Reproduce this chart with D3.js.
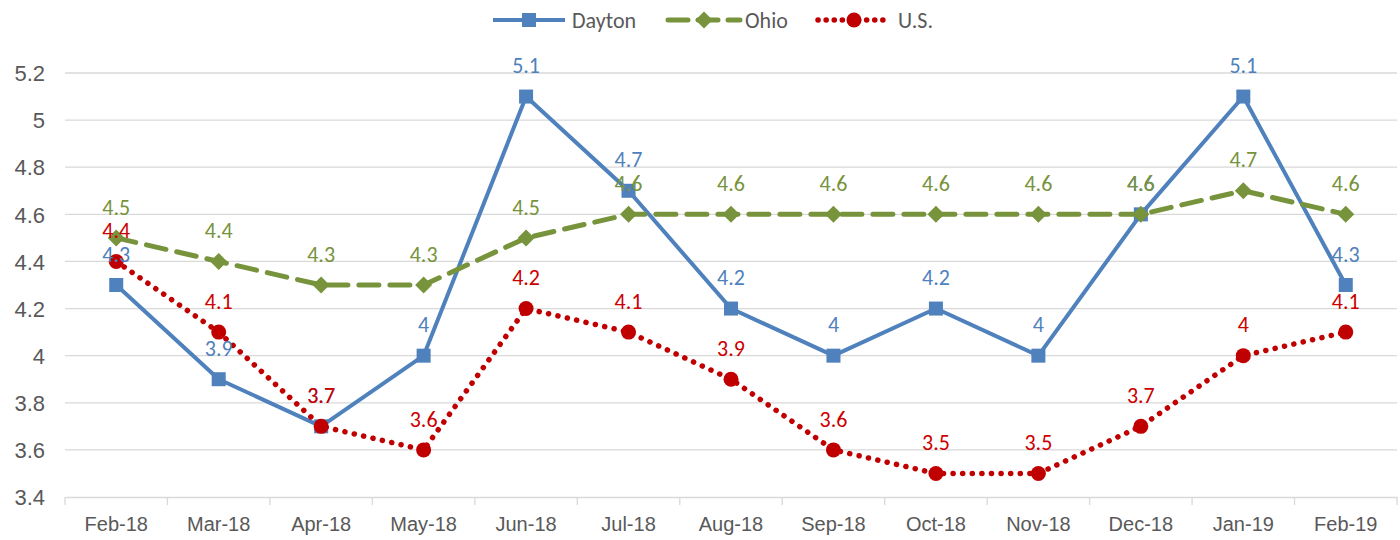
<!DOCTYPE html>
<html><head><meta charset="utf-8">
<script src="https://cdn.jsdelivr.net/npm/d3@7"></script>
<style>body{margin:0;background:#fff;} svg{display:block;font-family:Carlito, Calibri, Lato, "Open Sans", sans-serif;}</style>
</head><body>
<svg id="c" width="1400" height="540"></svg>
<script>
const categories = ["Feb-18","Mar-18","Apr-18","May-18","Jun-18","Jul-18","Aug-18","Sep-18","Oct-18","Nov-18","Dec-18","Jan-19","Feb-19"];
const dayton = [4.3,3.9,3.7,4.0,5.1,4.7,4.2,4.0,4.2,4.0,4.6,5.1,4.3];
const ohio   = [4.5,4.4,4.3,4.3,4.5,4.6,4.6,4.6,4.6,4.6,4.6,4.7,4.6];
const us     = [4.4,4.1,3.7,3.6,4.2,4.1,3.9,3.6,3.5,3.5,3.7,4.0,4.1];
const yTicks = [3.4,3.6,3.8,4,4.2,4.4,4.6,4.8,5,5.2];
const seriesNames = ["Dayton","Ohio","U.S."];

const series = [
  {name:seriesNames[0], values:dayton, color:"#4f81bd", label:"#4f81bd", dash:null, width:4, marker:"square"},
  {name:seriesNames[1], values:ohio, color:"#77933c", label:"#77933c", dash:"20 11", width:5, marker:"diamond"},
  {name:seriesNames[2], values:us, color:"#c00000", label:"#cc0000", dash:"0.1 9.5", width:5.5, marker:"circle"}
];

const svg = d3.select("#c");
const x = d3.scaleBand().domain(categories).range([65,1397]);
const y = d3.scaleLinear().domain([3.4,5.2]).range([497,73]);

svg.append("g").selectAll("line").data(yTicks.slice(1)).join("line")
  .attr("x1",65).attr("x2",1397).attr("y1",d=>y(d)).attr("y2",d=>y(d))
  .attr("stroke","#d9d9d9").attr("stroke-width",1.3);

const ya = svg.append("g")
  .call(d3.axisLeft(y).tickValues(yTicks).tickSize(0).tickPadding(0).tickFormat(d=>d3.format("")(d)));
ya.select(".domain").remove();
ya.attr("transform","translate(45,0)");
ya.selectAll("text").attr("font-size",22).attr("fill","#595959").attr("font-family",null).attr("dy","0.35em");

const xa = svg.append("g").attr("transform","translate(0,497)")
  .call(d3.axisBottom(x).tickSize(0).tickPadding(20));
xa.select(".domain").attr("stroke","#d9d9d9").attr("stroke-width",1.3);
xa.selectAll("text").attr("font-size",20).attr("fill","#595959").attr("font-family",null);
const bounds = categories.map(c=>x(c)).concat([x.range()[1]]);
xa.append("g").selectAll("line").data(bounds).join("line")
  .attr("x1",d=>d).attr("x2",d=>d).attr("y1",0).attr("y2",8)
  .attr("stroke","#d9d9d9").attr("stroke-width",1.3);

const cx = c => x(c) + x.bandwidth()/2;
const line = d3.line().x((d,i)=>cx(categories[i])).y(d=>y(d));

function drawMarker(g, type, color, px, py){
  if(type==="square") g.append("rect").attr("x",px-7).attr("y",py-7).attr("width",14).attr("height",14).attr("fill",color);
  else if(type==="diamond") g.append("path").attr("d",`M${px},${py-8.5}L${px+8.5},${py}L${px},${py+8.5}L${px-8.5},${py}Z`).attr("fill",color);
  else g.append("circle").attr("cx",px).attr("cy",py).attr("r",7.5).attr("fill",color);
}

series.forEach(s=>{
  const g = svg.append("g");
  g.append("path").datum(s.values).attr("d",line).attr("fill","none")
    .attr("stroke",s.color).attr("stroke-width",s.width)
    .attr("stroke-linecap", s.dash? "round":"butt").attr("stroke-linejoin","round")
    .attr("stroke-dasharray", s.dash);
  s.values.forEach((v,i)=>drawMarker(g,s.marker,s.color,cx(categories[i]),y(v)));
});

series.forEach(s=>{
  svg.append("g").selectAll("text").data(s.values).join("text")
    .attr("x",(d,i)=>cx(categories[i])).attr("y",d=>y(d)-31).attr("dy","0.35em")
    .attr("text-anchor","middle").attr("font-size",22).attr("fill",s.label)
    .text(d=>d3.format("")(d));
});

const legendItems = [
  {s:series[0], x0:493, tx:572},
  {s:series[1], x0:668, tx:745},
  {s:series[2], x0:818, tx:898}
];
legendItems.forEach(it=>{
  const g = svg.append("g"); const ly = 20;
  g.append("line").attr("x1",it.x0).attr("x2",it.x0+72).attr("y1",ly).attr("y2",ly)
    .attr("stroke",it.s.color).attr("stroke-width",it.s.width)
    .attr("stroke-linecap", it.s.dash? "round":"butt").attr("stroke-dasharray", it.s.dash? (it.s.marker==="circle"?"0.1 8":"20 10"):null);
  drawMarker(g,it.s.marker,it.s.color,it.x0+36,ly);
  g.append("text").attr("x",it.tx).attr("y",ly).attr("dy","0.35em").attr("font-size",22).attr("fill","#595959").text(it.s.name);
});
</script>
</body></html>
